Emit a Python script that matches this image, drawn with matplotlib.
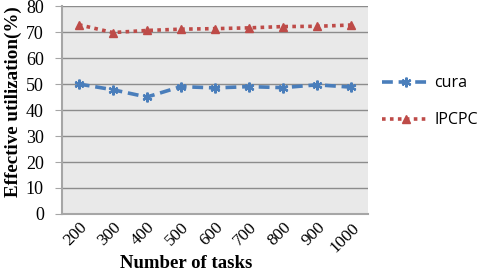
import numpy as np
import matplotlib.pyplot as plt

tasks = ["200", "300", "400", "500", "600", "700", "800", "900", "1000"]
cura = [50, 47.8, 45, 49, 48.5, 49, 48.6, 49.7, 48.8]
ipcpc = [72.8, 69.8, 70.6, 71.1, 71.3, 71.6, 72.1, 72.2, 72.7]

blue = "#4a7ebb"
red = "#be4b48"

fig = plt.figure(figsize=(4.83, 2.74), dpi=100)
ax = fig.add_axes([0.128, 0.219, 0.634, 0.759])
ax.set_facecolor("#e9e9e9")

x = np.arange(len(tasks))
ax.plot(x, cura, color=blue, linestyle=(0, (3, 1.6)), linewidth=2.6,
        marker=(6, 2, 0), markersize=7, markeredgewidth=1.6, label="cura")
ax.plot(x, ipcpc, color=red, linestyle=(0, (1, 1.2)), linewidth=2.6,
        marker="^", markersize=6, label="IPCPC")

ax.set_xlim(-0.5, len(tasks) - 0.5)
ax.set_ylim(0, 80)
ax.set_yticks(range(0, 81, 10))
ax.set_xticks(x)
ax.set_xticklabels(tasks, rotation=45, ha="right", rotation_mode="anchor",
                   family="Liberation Serif", fontsize=12.5)
for t in ax.get_yticklabels():
    t.set_family("Liberation Serif")
    t.set_fontsize(13)

ax.grid(axis="y", color="#8c8c8c", linewidth=1)
ax.set_axisbelow(True)
for s in ["top", "right"]:
    ax.spines[s].set_visible(False)
for s in ["left", "bottom"]:
    ax.spines[s].set_color("#a6a6a6")
    ax.spines[s].set_linewidth(1.5)
ax.tick_params(axis="y", length=5, color="#a6a6a6", pad=8)
ax.tick_params(axis="x", length=0, pad=4)

ax.set_xlabel("Number of tasks", family="Liberation Serif", fontweight="bold",
              fontsize=13.5, labelpad=0, x=0.407)
ax.set_ylabel("Effective utilization(%)", family="Liberation Serif",
              fontweight="bold", fontsize=13.7, labelpad=3, y=0.54)

fig.legend(loc="upper left", bbox_to_anchor=(0.79, 0.725), frameon=False,
           borderaxespad=0, borderpad=0,
           prop={"family": "Open Sans", "size": 11.5}, handlelength=3.0,
           handletextpad=0.3, labelspacing=1.3)

plt.savefig("out.png", dpi=100)
